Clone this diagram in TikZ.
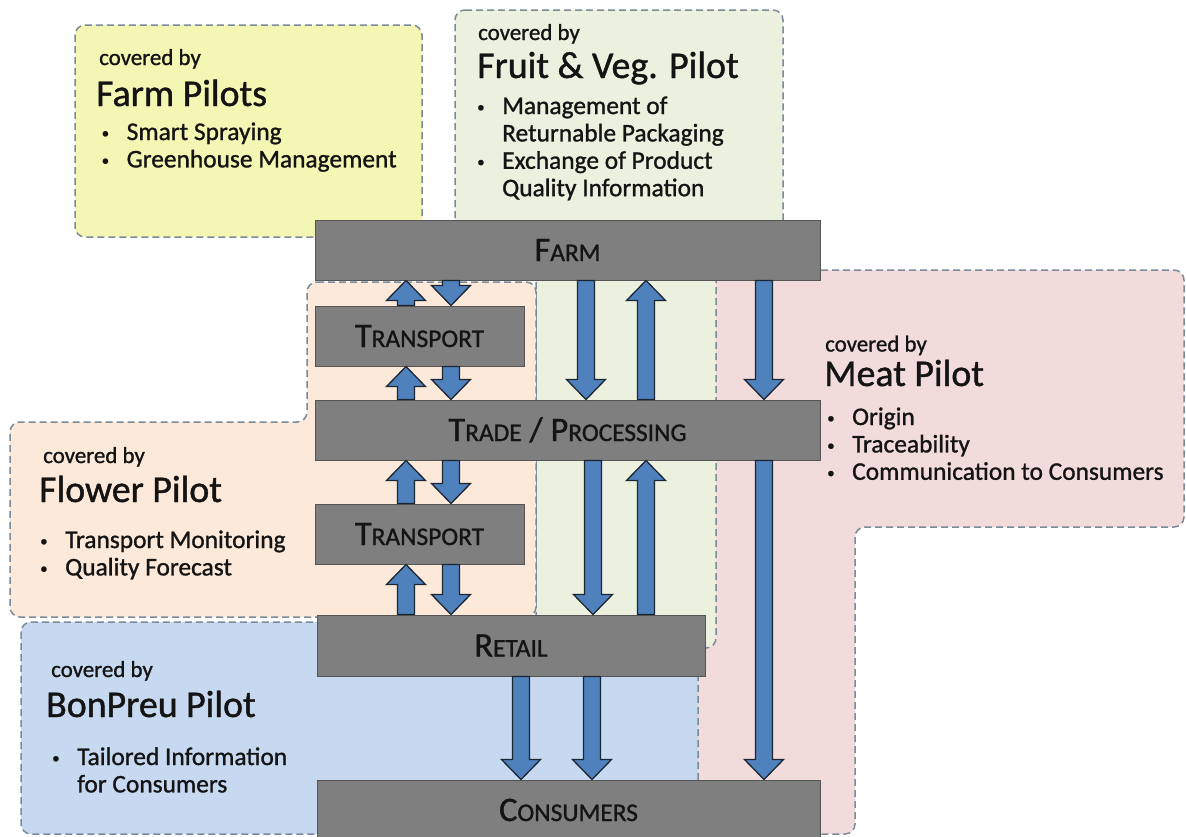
\documentclass[tikz,border=0pt]{standalone}
\usepackage{fontspec}
\setmainfont{Carlito}[FakeBold=1.1]
\usetikzlibrary{calc}
\definecolor{farmyellow}{HTML}{F4F7B3}
\definecolor{fruitgreen}{HTML}{EBF1DE}
\definecolor{meatpink}{HTML}{F2DCDB}
\definecolor{flowerorange}{HTML}{FDE9D9}
\definecolor{bonpreublue}{HTML}{C6D9F1}
\definecolor{zoneedge}{HTML}{7B8A99}
\definecolor{stagegray}{HTML}{7F7F7F}
\definecolor{stageedge}{HTML}{555555}
\definecolor{flowblue}{HTML}{4F81BD}
\definecolor{flowedge}{HTML}{1C2633}
\definecolor{inkdark}{HTML}{141414}
\tikzset{zone/.style={draw=zoneedge, line width=1.5bp, dash pattern=on 7bp off 4bp, rounded corners=10bp}}
\tikzset{stage/.style={draw=stageedge, fill=stagegray, line width=1bp, inner sep=0pt, text=inkdark,
    text height=22bp, text depth=0bp, font=\fontsize{34.5}{34.5}\selectfont}}
\tikzset{covered/.style={anchor=base west, inner sep=0pt, text=inkdark, font=\fontsize{23}{23}\selectfont}}
\tikzset{pilot/.style={anchor=base west, inner sep=0pt, text=inkdark, font=\fontsize{38}{38}\selectfont}}
\tikzset{tasks/.style={anchor=base west, inner sep=0pt, text=inkdark, font=\fontsize{25.5}{27.5}\selectfont}}
\tikzset{flow/.style={draw=flowedge, fill=flowblue, line width=1.3bp, line join=miter,
    to path={let \p1=(\tikztostart), \p2=(\tikztotarget), \n1={sign(\y2-\y1)*20} in
      ({\x1-8.5bp},{\y1}) -- ({\x1-8.5bp},{\y2-(\n1)*1bp}) -- ({\x1-19.5bp},{\y2-(\n1)*1bp})
      -- (\x2,\y2) -- ({\x1+19.5bp},{\y2-(\n1)*1bp}) -- ({\x1+8.5bp},{\y2-(\n1)*1bp})
      -- ({\x1+8.5bp},{\y1}) -- cycle}}}
\newcommand\smallcap[1]{{\fontsize{25.5}{25.5}\selectfont #1}}
\newcommand\taskdot{\hspace*{3bp}{\fontsize{15}{15}\selectfont\raisebox{2bp}{\textbullet}}}
\newcommand\tasklist[1]{\begin{tabular}[t]{@{}p{28bp}@{}l@{}}#1\end{tabular}}

\begin{document}
\begin{tikzpicture}[x=1bp,y=-1bp]
  \useasboundingbox (0,0) rectangle (1186,837);
  % pilot zones
  \draw[zone, fill=meatpink] (690,270) -- (1184,270) -- (1184,527) -- (855,527)
        -- (855,834) -- (690,834) -- cycle;
  \draw[zone, fill=fruitgreen] (455,10) -- (783,10) -- (783,250) -- (716,250)
        -- (716,648) -- (536,648) -- (536,250) -- (455,250) -- cycle;
  \draw[zone, fill=flowerorange] (307,282) -- (536,282) -- (536,617) -- (10,617)
        -- (10,422) -- (307,422) -- cycle;
  \draw[zone, fill=farmyellow] (75,25) rectangle (422,237);
  \draw[zone, fill=bonpreublue] (21,622) rectangle (698,834);

  % pilot labels
  \node[covered] (farmcov) at (99,65) {covered by};
  \node[pilot] (farmpil) at (96,106) {Farm Pilots};
  \node[tasks] (farmtask) at (98.5,140) {\tasklist{\taskdot & Smart Spraying\\
      \taskdot & Greenhouse Management}};

  \node[covered] (fruitcov) at (478,40) {covered by};
  \node[pilot] (fruitpil) at (477,78) {Fruit \& Veg. Pilot};
  \node[tasks] (fruittask) at (474,114) {\tasklist{\taskdot & Management of\\
      & Returnable Packaging\\ \taskdot & Exchange of Product\\ & Quality Information}};

  \node[covered] (meatcov) at (825,351.5) {covered by};
  \node[pilot] (meatpil) at (824,386) {Meat Pilot};
  \node[tasks] (meattask) at (824,425) {\tasklist{\taskdot & Origin\\
      \taskdot & Traceability\\ \taskdot & Communication to Consumers}};

  \node[covered] (flowcov) at (43,463) {covered by};
  \node[pilot] (flowpil) at (39,502) {Flower Pilot};
  \node[tasks] (flowtask) at (37,548) {\tasklist{\taskdot & Transport Monitoring\\
      \taskdot & Quality Forecast}};

  \node[covered] (boncov) at (51,677) {covered by};
  \node[pilot] (bonpil) at (46,717) {BonPreu Pilot};
  \node[tasks] (bontask) at (49,765) {\tasklist{\taskdot & Tailored Information\\
      & for Consumers}};

  % supply chain stages
  \node[stage, minimum width=505bp, minimum height=60bp] (farm) at (567.5,250) {F\smallcap{ARM}};
  \node[stage, minimum width=209bp, minimum height=60bp] (transA) at (419.5,336) {T\smallcap{RANSPORT}};
  \node[stage, minimum width=505bp, minimum height=60bp] (trade) at (567.5,430) {T\smallcap{RADE} / P\smallcap{ROCESSING}};
  \node[stage, minimum width=209bp, minimum height=60bp] (transB) at (419.5,534) {T\smallcap{RANSPORT}};
  \node[stage, minimum width=388bp, minimum height=61bp] (retail) at (511,645.5) {R\smallcap{ETAIL}};
  \node[stage, minimum width=503bp, minimum height=60bp] (consumers) at (568.5,810) {C\smallcap{ONSUMERS}};

  % flow columns
  \coordinate (upcol) at (406,0);
  \coordinate (downcol) at (451,0);
  \coordinate (fvdown) at (586,0);
  \coordinate (fvdownb) at (593,0);
  \coordinate (fvup) at (646,0);
  \coordinate (meatcol) at (764,0);
  \coordinate (shopa) at (521,0);
  \coordinate (shopb) at (592,0);

  % flows
  \draw[flow] (transA.north -| upcol) to (farm.south -| upcol);
  \draw[flow] (farm.south -| downcol) to (transA.north -| downcol);
  \draw[flow] (trade.north -| upcol) to (transA.south -| upcol);
  \draw[flow] (transA.south -| downcol) to (trade.north -| downcol);
  \draw[flow] (transB.north -| upcol) to (trade.south -| upcol);
  \draw[flow] (trade.south -| downcol) to (transB.north -| downcol);
  \draw[flow] (retail.north -| upcol) to (transB.south -| upcol);
  \draw[flow] (transB.south -| downcol) to (retail.north -| downcol);
  \draw[flow] (farm.south -| fvdown) to (trade.north -| fvdown);
  \draw[flow] (trade.north -| fvup) to (farm.south -| fvup);
  \draw[flow] (farm.south -| meatcol) to (trade.north -| meatcol);
  \draw[flow] (trade.south -| fvdownb) to (retail.north -| fvdownb);
  \draw[flow] (retail.north -| fvup) to (trade.south -| fvup);
  \draw[flow] (trade.south -| meatcol) to (consumers.north -| meatcol);
  \draw[flow] (retail.south -| shopa) to (consumers.north -| shopa);
  \draw[flow] (retail.south -| shopb) to (consumers.north -| shopb);
\end{tikzpicture}
\end{document}
